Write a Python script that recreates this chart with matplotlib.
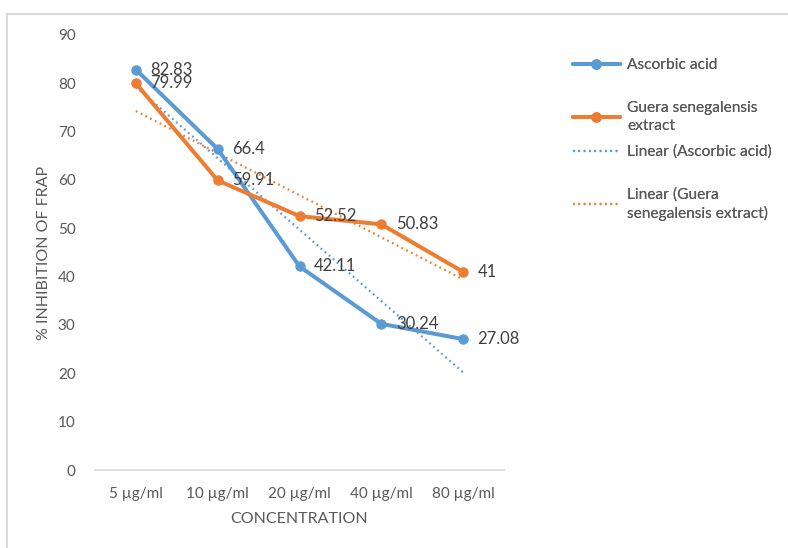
import numpy as np
import matplotlib
matplotlib.use("Agg")
import matplotlib.pyplot as plt
from matplotlib.patches import Rectangle

categories = ["5 µg/ml", "10 µg/ml", "20 µg/ml", "40 µg/ml", "80 µg/ml"]
ascorbic = [82.83, 66.4, 42.11, 30.24, 27.08]
guera = [79.99, 59.91, 52.52, 50.83, 41]
yticks = [0, 10, 20, 30, 40, 50, 60, 70, 80, 90]

BLUE = "#5B9BD5"
ORANGE = "#ED7D31"
GRAY = "#595959"
FONT = ["Lato", "DejaVu Sans"]
plt.rcParams["font.family"] = FONT

fig = plt.figure(figsize=(7.88, 5.48), dpi=100)
fig.patches.append(Rectangle((7 / 788, -0.1), 1.2, 1 - 14 / 548 + 0.1,
                             transform=fig.transFigure, fill=False,
                             edgecolor="#D9D9D9", linewidth=1.5))
ax = fig.add_axes([95 / 788, 1 - 470 / 548, (504 - 95) / 788, (470 - 35) / 548])

x = np.arange(1, len(categories) + 1)
la, = ax.plot(x, ascorbic, color=BLUE, lw=2.9, marker="o", ms=6.5, zorder=4,
              solid_capstyle="round")
lg, = ax.plot(x, guera, color=ORANGE, lw=2.9, marker="o", ms=6.5, zorder=5,
              solid_capstyle="round")

pa = np.polyfit(x, ascorbic, 1)
pg = np.polyfit(x, guera, 1)
ta, = ax.plot(x, np.polyval(pa, x), color=BLUE, lw=1.6, ls=(0, (0.8, 1.6)), zorder=3)
tg, = ax.plot(x, np.polyval(pg, x), color=ORANGE, lw=1.6, ls=(0, (0.8, 1.6)), zorder=3)

for xi, v in zip(x, ascorbic):
    ax.annotate(f"{v:g}", (xi, v), xytext=(10.5, 0), textcoords="offset points",
                va="center", ha="left", fontsize=12, color="#404040", zorder=6)
for xi, v in zip(x, guera):
    ax.annotate(f"{v:g}", (xi, v), xytext=(10.5, 0), textcoords="offset points",
                va="center", ha="left", fontsize=12, color="#404040", zorder=6)

ax.set_xlim(0.5, 5.5)
ax.set_ylim(0, 90)
ax.set_yticks(yticks)
ax.set_xticks(x)
ax.set_xticklabels(categories)
for s in ["top", "right", "left"]:
    ax.spines[s].set_visible(False)
ax.spines["bottom"].set_color("#D9D9D9")
ax.spines["bottom"].set_linewidth(1.2)
ax.tick_params(axis="both", length=0, labelsize=11, labelcolor=GRAY)
ax.tick_params(axis="y", pad=14)
ax.tick_params(axis="x", pad=12)
ax.set_xlabel("CONCENTRATION", fontsize=11.5, color=GRAY, labelpad=8)
ax.set_ylabel("% INHIBITION OF FRAP", fontsize=11.5, color=GRAY, labelpad=5)

entries = [
    (la, "Ascorbic acid", 65),
    (lg, "Guera senegalensis\nextract", 117),
    (ta, "Linear (Ascorbic acid)", 152),
    (tg, "Linear (Guera\nsenegalensis extract)", 204),
]
for h, lab, yc in entries:
    leg = fig.legend([h], [lab], loc="center left",
                     bbox_to_anchor=(573 / 788, 1 - yc / 548),
                     frameon=False, fontsize=11.2, handlelength=3.0,
                     handletextpad=0.5, borderpad=0, borderaxespad=0,
                     labelcolor=GRAY)
    for t in leg.get_texts():
        t.set_linespacing(1.35)
    fig.add_artist(leg)

fig.savefig("out.png", dpi=100)
